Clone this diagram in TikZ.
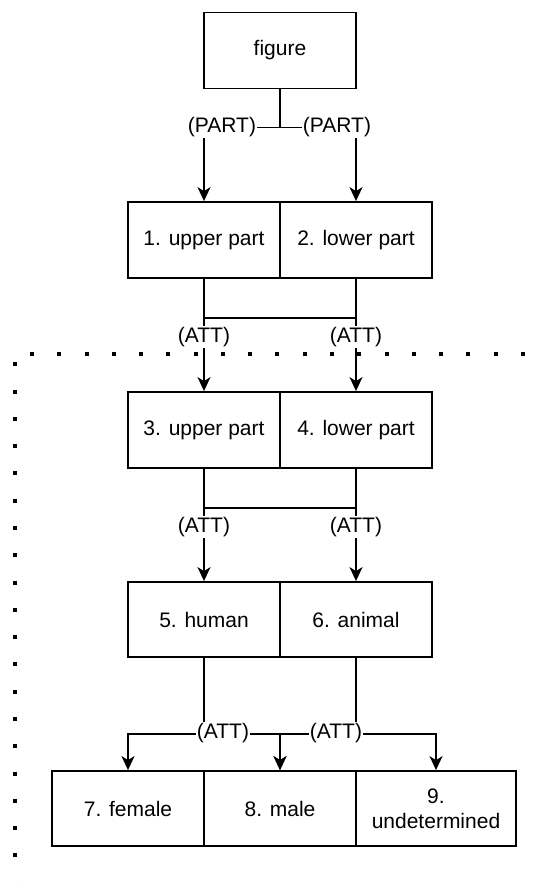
\documentclass[tikz,border=0pt]{standalone}
\usepackage{fontspec}
\setmainfont{Liberation Sans}
\usepackage{tikz}
\usetikzlibrary{arrows.meta}

\begin{document}
\begin{tikzpicture}[x=1pt, y=-1pt,
  every node/.style={inner sep=1pt, font=\fontsize{21}{25}\selectfont},
  cell/.style={draw, line width=1.8pt, minimum width=152pt, minimum height=76pt, inner sep=0pt, align=center},
  rel/.style={fill=white},
  link/.style={-{Stealth[length=14pt,width=13pt,inset=4pt]}, line width=1.8pt}]
  \useasboundingbox (0,0) rectangle (537,881);
  \draw[line width=4pt, dash pattern=on 4pt off 23.28pt] (525,354) -- (15,354) -- (15,881);
  \node[cell] (fig) at (280,50.5) {figure};
  \node[cell] (b1) at (204,240) {1. upper part};
  \node[cell] (b2) at (356,240) {2. lower part};
  \node[cell] (b3) at (204,430) {3. upper part};
  \node[cell] (b4) at (356,430) {4. lower part};
  \node[cell, minimum height=75pt] (b5) at (204,619.5) {5. human};
  \node[cell, minimum height=75pt] (b6) at (356,619.5) {6. animal};
  \node[cell, minimum height=75pt] (b7) at (128,808.5) {7. female};
  \node[cell, minimum height=75pt] (b8) at (280,808.5) {8. male};
  \node[cell, minimum height=75pt, minimum width=160pt] (b9) at (436,808.5) {9.\\undetermined};
  \draw[link] (fig.south) -- ++(0,38) -| (b1.north);
  \draw[link] (fig.south) -- ++(0,38) -| (b2.north);
  \draw[link] (b1.south) -- ++(0,39) -| (b4.north);
  \draw[link] (b2.south) -- ++(0,39) -| (b3.north);
  \draw[link] (b3.south) -- ++(0,39) -| (b6.north);
  \draw[link] (b4.south) -- ++(0,39) -| (b5.north);
  \draw[link] (b5.south) -- ++(0,76) -| (b7.north);
  \draw[link] (b5.south) -- ++(0,76) -| (b8.north);
  \draw[link] (b6.south) -- ++(0,76) -| (b8.north);
  \draw[link] (b6.south) -- ++(0,76) -| (b9.north);
  \node[rel] (part1) at (222,127) {(PART)};
  \node[rel] (part2) at (337,127) {(PART)};
  \node[rel] (att1) at (204,337) {(ATT)};
  \node[rel] (att2) at (356,337) {(ATT)};
  \node[rel] (att3) at (204,527) {(ATT)};
  \node[rel] (att4) at (356,527) {(ATT)};
  \node[rel] (att5) at (223,733) {(ATT)};
  \node[rel] (att6) at (336,733) {(ATT)};
\end{tikzpicture}
\end{document}
